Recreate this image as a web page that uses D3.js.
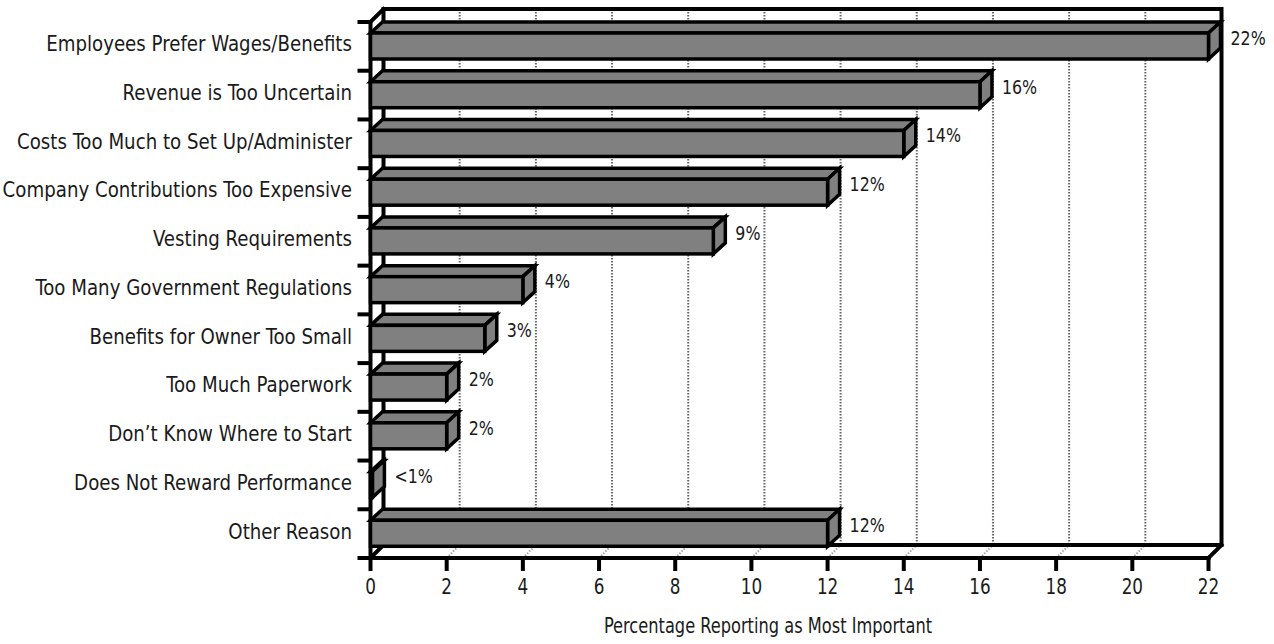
<!DOCTYPE html>
<html>
<head>
<meta charset="utf-8">
<script src="https://cdn.jsdelivr.net/npm/d3@7/dist/d3.min.js"></script>
<style>
  html, body { margin: 0; padding: 0; background: #fff; }
  svg { display: block; }
  text { font-family: "DejaVu Sans Condensed", "Liberation Sans", sans-serif; fill: #1a1a1a; }
</style>
</head>
<body>
<svg id="chart" width="1274" height="644"></svg>
<script>
const categories = [
  "Employees Prefer Wages/Benefits",
  "Revenue is Too Uncertain",
  "Costs Too Much to Set Up/Administer",
  "Company Contributions Too Expensive",
  "Vesting Requirements",
  "Too Many Government Regulations",
  "Benefits for Owner Too Small",
  "Too Much Paperwork",
  "Don\u2019t Know Where to Start",
  "Does Not Reward Performance",
  "Other Reason"
];
const values = [22, 16, 14, 12, 9, 4, 3, 2, 2, 0.05, 12];
const valueLabels = ["22%", "16%", "14%", "12%", "9%", "4%", "3%", "2%", "2%", "<1%", "12%"];
const xTicks = [0, 2, 4, 6, 8, 10, 12, 14, 16, 18, 20, 22];
const xTitle = "Percentage Reporting as Most Important";

const svg = d3.select("#chart");
const x = d3.scaleLinear().domain([0, 22]).range([370.5, 1208.5]);
const y = d3.scaleBand().domain(categories).range([22, 558]).padding(0);

const WDX = 13, WDY = 13;
const BDX = 12, BDY = 11;
const yTop = 22, yBot = 558;
const x0 = x(0), x1 = x(22);

// helper: condensed text placed by transform
function ctext(sel, sx) {
  return sel.attr("transform", d => `translate(${d.tx},${d.ty}) scale(${sx},1)`)
    .attr("x", 0).attr("y", 0);
}

// back wall
svg.append("rect")
  .attr("x", x0 + WDX).attr("y", yTop - WDY)
  .attr("width", x1 - x0).attr("height", yBot - yTop)
  .attr("fill", "#fff");

// back-wall gridlines
svg.append("g").selectAll("line").data(xTicks.slice(1, -1)).join("line")
  .attr("x1", d => x(d) + WDX).attr("x2", d => x(d) + WDX)
  .attr("y1", yTop - WDY).attr("y2", yBot - WDY)
  .attr("stroke", "#666").attr("stroke-width", 2)
  .attr("stroke-dasharray", "1.5,1.5");

// floor gridlines
svg.append("g").selectAll("line").data(xTicks.slice(1, -1)).join("line")
  .attr("x1", d => x(d)).attr("x2", d => x(d) + WDX)
  .attr("y1", yBot).attr("y2", yBot - WDY)
  .attr("stroke", "#aaa").attr("stroke-width", 2)
  .attr("stroke-dasharray", "1.5,1.5");

// back wall frame
svg.append("rect")
  .attr("x", x0 + WDX).attr("y", yTop - WDY)
  .attr("width", x1 - x0).attr("height", yBot - yTop)
  .attr("fill", "none").attr("stroke", "#000").attr("stroke-width", 4);

// front left axis, bottom axis, corner diagonals
const frame = svg.append("g").attr("stroke", "#000").attr("stroke-width", 4).attr("fill", "none")
  .attr("stroke-linecap", "square");
frame.append("line").attr("x1", x0).attr("x2", x0).attr("y1", yTop).attr("y2", yBot);
frame.append("line").attr("x1", x0).attr("x2", x1).attr("y1", yBot).attr("y2", yBot);
frame.append("line").attr("x1", x0).attr("x2", x0 + WDX).attr("y1", yTop).attr("y2", yTop - WDY);
frame.append("line").attr("x1", x0).attr("x2", x0 + WDX).attr("y1", yBot).attr("y2", yBot - WDY);
frame.append("line").attr("x1", x1).attr("x2", x1 + WDX).attr("y1", yBot).attr("y2", yBot - WDY);

// category ticks (band boundaries)
const bounds = categories.map(c => y(c)).concat([yBot]);
svg.append("g").selectAll("line").data(bounds).join("line")
  .attr("x1", x0 - 13).attr("x2", x0)
  .attr("y1", d => d).attr("y2", d => d)
  .attr("stroke", "#000").attr("stroke-width", 4);

// x ticks
svg.append("g").selectAll("line").data(xTicks).join("line")
  .attr("x1", d => x(d)).attr("x2", d => x(d))
  .attr("y1", yBot).attr("y2", yBot + 13)
  .attr("stroke", "#000").attr("stroke-width", 4);

ctext(svg.append("g").selectAll("text")
  .data(xTicks.map(t => ({ t, tx: x(t), ty: 588 }))).join("text"), 0.85)
  .attr("text-anchor", "middle").attr("dominant-baseline", "middle")
  .attr("font-size", 22)
  .text(d => d.t);

ctext(svg.append("g").selectAll("text")
  .data([{ t: xTitle, tx: 768, ty: 627 }]).join("text"), 0.82)
  .attr("text-anchor", "middle").attr("dominant-baseline", "middle")
  .attr("font-size", 22)
  .text(d => d.t);

// bars
const bars = svg.append("g");
categories.forEach((c, i) => {
  const v = values[i];
  const fy = y(c) + BDY;
  const fh = 26;
  const xl = x(0), xr = x(v);
  const g = bars.append("g").attr("stroke", "#000").attr("stroke-width", 3.5)
    .attr("stroke-linejoin", "miter").attr("fill", "#808080");
  g.append("path").attr("d",
    `M${xl},${fy} L${xl + BDX},${fy - BDY} L${xr + BDX},${fy - BDY} L${xr},${fy} Z`);
  g.append("path").attr("d",
    `M${xr},${fy} L${xr + BDX},${fy - BDY} L${xr + BDX},${fy + fh - BDY} L${xr},${fy + fh} Z`);
  g.append("rect").attr("x", xl).attr("y", fy).attr("width", Math.max(0, xr - xl)).attr("height", fh);
});

// value labels
ctext(svg.append("g").selectAll("text")
  .data(categories.map((c, i) => ({ t: valueLabels[i], tx: x(values[i]) + BDX + 10, ty: y(c) + 17 })))
  .join("text"), 0.88)
  .attr("dominant-baseline", "middle")
  .attr("font-size", 20)
  .text(d => d.t);

// category labels
ctext(svg.append("g").selectAll("text")
  .data(categories.map(c => ({ t: c, tx: 352, ty: y(c) + 23 })))
  .join("text"), 0.92)
  .attr("text-anchor", "end").attr("dominant-baseline", "middle")
  .attr("font-size", 22)
  .text(d => d.t);
</script>
</body>
</html>
